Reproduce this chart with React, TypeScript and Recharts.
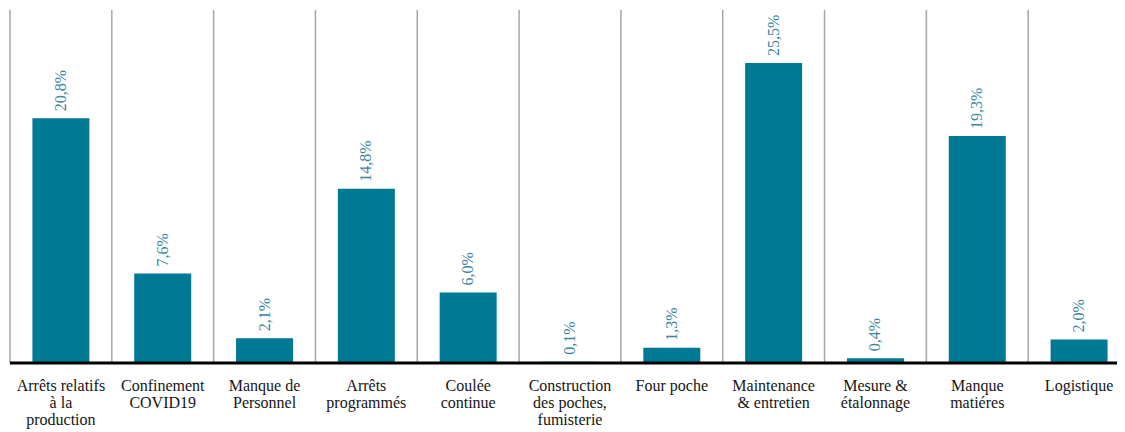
import { BarChart, Bar, XAxis, YAxis, CartesianGrid, LabelList } from 'recharts'

const categories = [
  'Arrêts relatifs\nà la\nproduction',
  'Confinement\nCOVID19',
  'Manque de\nPersonnel',
  'Arrêts\nprogrammés',
  'Coulée\ncontinue',
  'Construction\ndes poches,\nfumisterie',
  'Four poche',
  'Maintenance\n& entretien',
  'Mesure &\nétalonnage',
  'Manque\nmatiéres',
  'Logistique',
]
const shares = [20.8, 7.6, 2.1, 14.8, 6.0, 0.1, 1.3, 25.5, 0.4, 19.3, 2.0]
const shareLabels = ['20,8%', '7,6%', '2,1%', '14,8%', '6,0%', '0,1%', '1,3%', '25,5%', '0,4%', '19,3%', '2,0%']

const data = categories.map((name, i) => ({ name, value: shares[i], label: shareLabels[i] }))

const FONT = 'Liberation Serif'

const CategoryTick = ({ x, y, payload }) => {
  const lines = String(payload.value).split('\n')
  return (
    <text x={x} y={y} textAnchor="middle" fill="#151515" fontFamily={FONT} fontSize={16}>
      {lines.map((line, i) => (
        <tspan key={i} x={x} dy={i === 0 ? 28 : 17}>
          {line}
        </tspan>
      ))}
    </text>
  )
}

const ValueLabel = ({ x, y, width, value }) => {
  const cx = x + width / 2 + 5
  const ty = y - 7
  return (
    <text
      x={cx}
      y={ty}
      transform={`rotate(-90 ${cx} ${ty})`}
      textAnchor="start"
      fill="#3a86a2"
      fontFamily={FONT}
      fontSize={16}
    >
      {value}
    </text>
  )
}

export default function App() {
  return (
    <div style={{ width: 1117, height: 424, overflow: 'hidden' }}>
      <BarChart
        width={1122}
        height={424}
        data={data}
        margin={{ top: 2, right: 0, left: 2, bottom: 0 }}
        barCategoryGap="22%"
      >
        <CartesianGrid
          horizontal={false}
          stroke="#a6a6a6"
          strokeWidth={1.5}
          verticalCoordinatesGenerator={({ offset }) =>
            categories.map((_, i) => offset.left + (i * offset.width) / categories.length)
          }
        />
        <XAxis
          dataKey="name"
          interval={0}
          tickLine={false}
          tickSize={0}
          tickMargin={0}
          height={69}
          axisLine={{ stroke: '#000', strokeWidth: 3 }}
          tick={<CategoryTick />}
        />
        <YAxis hide domain={[0, 30]} />
        <Bar dataKey="value" fill="#007a94" isAnimationActive={false}>
          <LabelList dataKey="label" content={<ValueLabel />} />
        </Bar>
      </BarChart>
    </div>
  )
}
